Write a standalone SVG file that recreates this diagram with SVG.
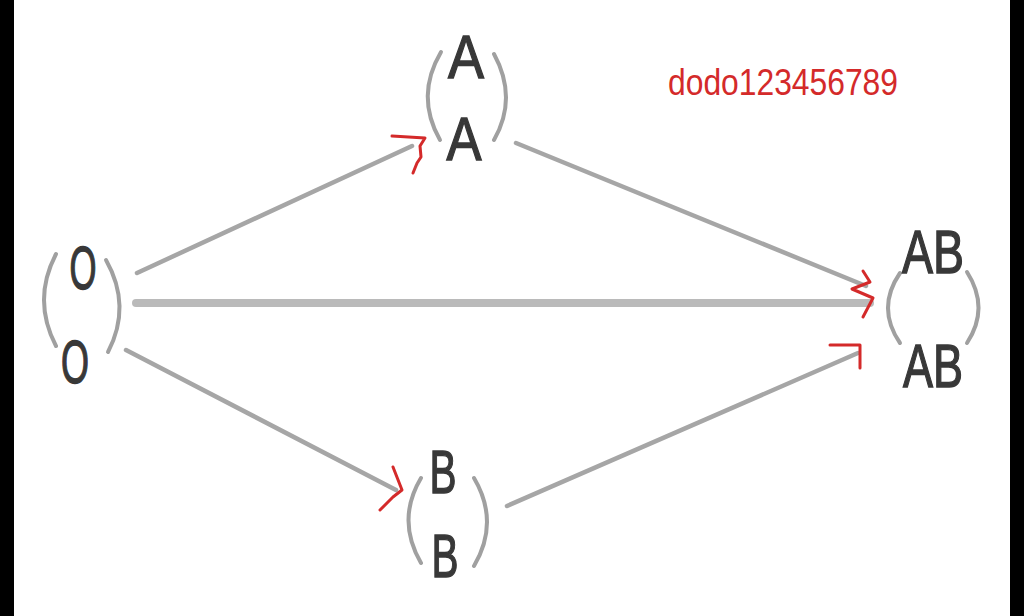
<svg xmlns="http://www.w3.org/2000/svg" width="1024" height="616" viewBox="0 0 1024 616">
<style>
.let{font-family:"Liberation Sans",Arial,sans-serif;font-size:62px;fill:#383838;stroke:#383838;stroke-width:1.4;text-anchor:middle}
.br{fill:none;stroke:#a0a0a0;stroke-width:4;stroke-linecap:round}
.ln{fill:none;stroke:#a6a6a6;stroke-width:4.5;stroke-linecap:round}
.red{fill:none;stroke:#d42a2a;stroke-width:3;stroke-linecap:round;stroke-linejoin:round}
.hand{font-family:"Liberation Sans",Arial,sans-serif;font-size:36px;fill:#d42a2a}
</style>
<rect x="0" y="0" width="1024" height="616" fill="#ffffff"/>
<rect x="0" y="0" width="14" height="616" fill="#000"/>
<rect x="1010" y="0" width="14" height="616" fill="#000"/>
<g id="connectors">
<line class="ln" x1="137" y1="273" x2="412" y2="146"/>
<line class="ln" x1="136" y1="303" x2="870" y2="303" style="stroke-width:8;stroke:#bababa"/>
<line class="ln" x1="126" y1="350" x2="396" y2="490"/>
<line class="ln" x1="516" y1="143" x2="866" y2="286"/>
<line class="ln" x1="507" y1="506" x2="858" y2="353"/>
</g>
<g id="node-O">
<path class="br" d="M56,254 Q32,300 56,346"/>
<path class="br" d="M106,260 Q132,306 108,352"/>
<text class="let" x="83" y="289" textLength="27" lengthAdjust="spacingAndGlyphs">O</text>
<text class="let" x="75" y="383" textLength="28" lengthAdjust="spacingAndGlyphs">O</text>
</g>
<g id="node-A">
<path class="br" d="M441,52 Q415,96 440,140"/>
<path class="br" d="M494,54 Q518,98 494,140"/>
<text class="let" x="466" y="78" textLength="36" lengthAdjust="spacingAndGlyphs">A</text>
<text class="let" x="464" y="160" textLength="35" lengthAdjust="spacingAndGlyphs">A</text>
</g>
<g id="node-AB">
<path class="br" d="M900,273 Q876,308 900,343"/>
<path class="br" d="M967,272 Q990,308 967,343"/>
<text class="let" x="933" y="273" textLength="62" lengthAdjust="spacingAndGlyphs">AB</text>
<text class="let" x="933" y="387" textLength="60" lengthAdjust="spacingAndGlyphs">AB</text>
</g>
<g id="node-B">
<path class="br" d="M421,478 Q396,520 421,563"/>
<path class="br" d="M474,478 Q500,522 474,566"/>
<text class="let" x="443" y="493" textLength="27" lengthAdjust="spacingAndGlyphs">B</text>
<text class="let" x="445" y="577" textLength="27" lengthAdjust="spacingAndGlyphs">B</text>
</g>
<g id="annotations">
<path class="red" d="M392,136 L425,138 L420,146 L421,157 L417,163 L413,173"/>
<path class="red" d="M393,467 L402,490 L393,497 L380,510"/>
<path class="red" d="M863,271 L870,282 L852,289 L873,298 L863,317"/>
<path class="red" d="M830,345 L860,345 L860,368"/>
<text class="hand" x="668" y="95" textLength="230" lengthAdjust="spacingAndGlyphs">dodo123456789</text>
</g>
</svg>
